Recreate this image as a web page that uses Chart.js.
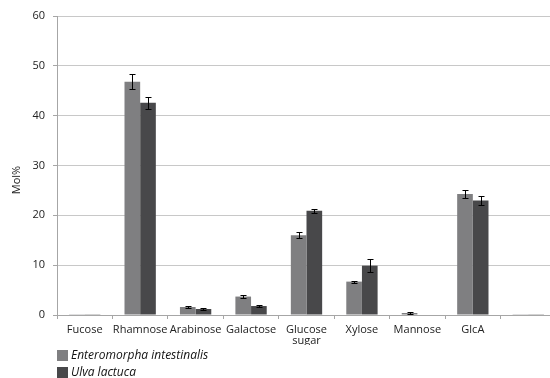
<!DOCTYPE html>
<html>
<head>
<meta charset="utf-8">
<script src="https://cdn.jsdelivr.net/npm/chart.js@4/dist/chart.umd.min.js"></script>
<style>
  html, body { margin: 0; padding: 0; background: #ffffff; overflow: hidden; }
  #wrap { width: 556px; height: 378px; }
</style>
</head>
<body>
<div id="wrap"><canvas id="c" width="556" height="378"></canvas></div>
<script>
// Monosaccharide composition (Mol%) of two green seaweeds
const categories = ['Fucose', 'Rhamnose', 'Arabinose', 'Galactose', ['Glucose', 'sugar'], 'Xylose', 'Mannose', 'GlcA', ''];
const seriesNames = ['Enteromorpha intestinalis', 'Ulva lactuca'];
const enteromorpha = [0.15, 46.8, 1.6, 3.7, 16.0, 6.7, 0.4, 24.3, 0.15];
const ulva = [0.15, 42.6, 1.2, 1.8, 20.9, 9.9, 0.1, 23.0, 0.15];
const enteromorphaErr = [0, 1.5, 0.2, 0.3, 0.6, 0.2, 0.2, 0.85, 0];
const ulvaErr = [0, 1.2, 0.2, 0.2, 0.45, 1.35, 0, 0.95, 0];
const yTicks = [0, 10, 20, 30, 40, 50, 60];

const FONT = "'Open Sans', 'Noto Sans', sans-serif";

// Error bars: one whisker with caps per bar, from each dataset's error list
const errorBars = {
  id: 'errorBars',
  afterDatasetsDraw(chart) {
    const ctx = chart.ctx;
    const y = chart.scales.y;
    ctx.save();
    ctx.strokeStyle = '#000000';
    ctx.lineWidth = 1;
    chart.data.datasets.forEach((ds, di) => {
      const meta = chart.getDatasetMeta(di);
      meta.data.forEach((bar, i) => {
        const e = ds.errors[i];
        if (!e) return;
        const v = ds.data[i];
        const x = Math.round(bar.x) + 0.5;
        const yt = Math.round(y.getPixelForValue(v + e)) + 0.5;
        const yb = Math.round(y.getPixelForValue(v - e)) + 0.5;
        ctx.beginPath();
        ctx.moveTo(x, yt); ctx.lineTo(x, yb);
        ctx.moveTo(x - 3, yt); ctx.lineTo(x + 3, yt);
        ctx.moveTo(x - 3, yb); ctx.lineTo(x + 3, yb);
        ctx.stroke();
      });
    });
    ctx.restore();
  }
};

// Stacked legend in the lower-left corner and the rotated axis title
const sideText = {
  id: 'sideText',
  afterDraw(chart) {
    const ctx = chart.ctx;
    ctx.save();
    chart.data.datasets.forEach((ds, i) => {
      const cy = 355 + i * 17;
      ctx.fillStyle = ds.backgroundColor;
      ctx.fillRect(57, cy - 5, 11, 11);
      ctx.fillStyle = '#111111';
      ctx.font = "italic 12px " + FONT;
      ctx.textBaseline = 'middle';
      ctx.textAlign = 'left';
      ctx.fillText(ds.label, 71, cy + 1);
    });
    ctx.translate(17, 180);
    ctx.rotate(-Math.PI / 2);
    ctx.font = "11px " + FONT;
    ctx.fillStyle = '#222222';
    ctx.textAlign = 'center';
    ctx.textBaseline = 'middle';
    ctx.fillText('Mol%', 0, 0);
    ctx.restore();
  }
};

new Chart(document.getElementById('c'), {
  type: 'bar',
  data: {
    labels: categories,
    datasets: [
      { label: seriesNames[0], data: enteromorpha, errors: enteromorphaErr,
        backgroundColor: '#7f7f81', borderWidth: 0 },
      { label: seriesNames[1], data: ulva, errors: ulvaErr,
        backgroundColor: '#48484a', borderWidth: 0 }
    ]
  },
  options: {
    responsive: false,
    animation: false,
    layout: { padding: { top: 16, left: 0, right: 0, bottom: 33 } },
    datasets: { bar: { categoryPercentage: 0.565, barPercentage: 1.0 } },
    plugins: { legend: { display: false }, tooltip: { enabled: false } },
    scales: {
      x: {
        afterFit(s) { s.height = 30; },
        grid: { drawOnChartArea: false, drawTicks: true, tickLength: 4, color: '#a6a6a6', offset: true },
        border: { display: true, color: '#a6a6a6', width: 1 },
        ticks: { color: '#222222', font: { family: FONT, size: 11, lineHeight: 0.95 }, padding: 6, maxRotation: 0, autoSkip: false }
      },
      y: {
        min: 0, max: 60,
        afterFit(s) { s.width = 57; },
        afterBuildTicks(s) { s.ticks = yTicks.map(v => ({ value: v })); },
        grid: { color: '#c8c8c8', lineWidth: 1, drawTicks: true, tickLength: 4, tickColor: '#a6a6a6' },
        border: { display: true, color: '#a6a6a6', width: 1 },
        ticks: { color: '#222222', font: { family: FONT, size: 11 }, padding: 8 }
      }
    }
  },
  plugins: [errorBars, sideText]
});
</script>
</body>
</html>
